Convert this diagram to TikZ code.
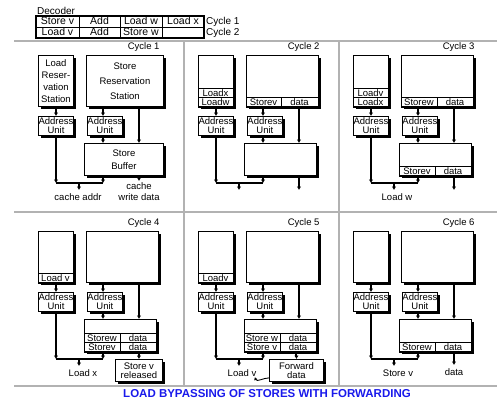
\documentclass[tikz,border=0pt]{standalone}
\usepackage{fontspec}
\setmainfont{Liberation Sans}
\usetikzlibrary{arrows.meta,shadows}

\definecolor{framegray}{RGB}{178,178,178}
\definecolor{titleblue}{RGB}{25,25,235}

\tikzset{
  unitbox/.style={draw, line width=0.9pt, fill=white, inner sep=0pt, align=center,
    anchor=north west,
    drop shadow={shadow xshift=2.6pt, shadow yshift=-2.6pt, fill=black, opacity=1}},
  addrbox/.style={unitbox, minimum height=19, font=\fontsize{9.5}{9.2}\selectfont},
  rowcell/.style={draw, line width=0.6pt, inner sep=0pt, outer sep=0pt,
    minimum height=9.5, text height=6.8pt, text depth=0pt, anchor=south west},
  deccell/.style={draw, line width=0.7pt, inner sep=0pt, outer sep=0pt,
    minimum height=11, anchor=north west, text height=7pt, text depth=1.5pt,
    font=\fontsize{10.5}{11}\selectfont},
  flow/.style={line width=2pt, -{Latex[length=3.5pt,width=4.5pt]}},
  wire/.style={line width=2pt},
  panelline/.style={framegray, line width=2.5pt},
}

\begin{document}
\begin{tikzpicture}[x=1pt, y=-1pt, font=\fontsize{9.5}{11}\selectfont]
  \useasboundingbox (0,0) rectangle (497,404);

  % decoder table
  \node[anchor=west, inner sep=1pt, font=\fontsize{10}{11}\selectfont] (dec) at (36,11) {Decoder};
  \node[deccell, minimum width=43] (d11) at (36,16) {Store v};
  \node[deccell, minimum width=41] (d12) at (d11.north east) {Add};
  \node[deccell, minimum width=42] (d13) at (d12.north east) {Load w};
  \node[deccell, minimum width=42] (d14) at (d13.north east) {Load x};
  \node[deccell, minimum width=43] (d21) at (d11.south west) {Load v};
  \node[deccell, minimum width=41] (d22) at (d21.north east) {Add};
  \node[deccell, minimum width=42] (d23) at (d22.north east) {Store w};
  \node[deccell, minimum width=42] (d24) at (d23.north east) {};
  \draw[line width=1.6pt] (d11.north west) rectangle (d24.south east);
  \node[anchor=west, inner sep=2pt, font=\fontsize{10}{11}\selectfont] (dc1) at (d14.east) {Cycle 1};
  \node[anchor=west, inner sep=2pt, font=\fontsize{10}{11}\selectfont] (dc2) at (d24.east) {Cycle 2};

  % panel frame
  \draw[panelline] (14,41) -- (497,41);
  \draw[panelline] (14,212) -- (497,212);
  \draw[panelline] (14,386) -- (497,386);
  \draw[panelline] (184,41) -- (184,386);
  \draw[panelline] (339,41) -- (339,386);

  % common parts of the six cycles
  \foreach \i/\dx/\dy in {1/0/0, 2/160/0, 3/315/0, 4/0/176, 5/160/176, 6/315/176}{
    \pgfmathsetmacro{\sw}{\i==1 ? 77 : 72}
    \pgfmathsetmacro{\bw}{\i==1 ? 79 : 72}
    \begin{scope}[shift={(\dx,\dy)}]
      \node[anchor=east] (cyc\i) at (163,47) {Cycle \i};
      \node[unitbox, minimum width=35, minimum height=51] (lrs\i) at (38,55) {};
      \node[unitbox, minimum width=\sw, minimum height=51] (srs\i) at (86,55) {};
      \node[addrbox, minimum width=35] (aul\i) at (38,116) {Address\\Unit};
      \node[addrbox, minimum width=32] (aur\i) at (87,116) {Address\\Unit};
      \node[unitbox, minimum width=\bw, minimum height=32] (sb\i) at (84,143) {};
      \coordinate (busl\i) at (56,183);
      \coordinate (busr\i) at (103,183);
      \coordinate (busm\i) at (79,183);
      \coordinate (out\i) at (79,190);
      \coordinate (dsrc\i) at (139,100);
      \draw[flow] (lrs\i.south -| busl\i) -- (aul\i.north -| busl\i);
      \draw[flow] (aul\i.south -| busl\i) -- (busl\i);
      \draw[flow] (srs\i.south -| busr\i) -- (aur\i.north -| busr\i);
      \draw[flow] (aur\i.south -| busr\i) -- (sb\i.north -| busr\i);
      \draw[flow] (srs\i.south -| dsrc\i) -- (sb\i.north -| dsrc\i);
      \draw[flow] (sb\i.south -| busr\i) -- (busr\i);
      \draw[wire] (busl\i) -- (busr\i);
      \draw[flow] (busm\i) -- (out\i);
    \end{scope}
  }

  % cycle 1
  \node[align=center, font=\fontsize{9.5}{12}\selectfont] (lrs1txt) at (lrs1.center) {Load\\Reser-\\vation\\Station};
  \node[align=center, font=\fontsize{9.5}{15}\selectfont] (srs1txt) at (srs1.center) {Store\\Reservation\\Station};
  \node[align=center, font=\fontsize{9.5}{13}\selectfont] (sb1txt) at (sb1.center) {Store\\Buffer};
  \coordinate (wd1) at (139,181);
  \draw[flow] (sb1.south -| wd1) -- (wd1);
  \node[below, xshift=-1pt] (ca1) at (out1) {cache addr};
  \node[below, align=center, inner sep=1pt] (cw1) at (wd1) {cache\\write data};

  % cycle 2
  \begin{scope}[shift={(160,0)}]
    \node[rowcell, minimum width=35] (ldw2) at (lrs2.south west) {Loadw};
    \node[rowcell, minimum width=35] (ldx2) at (ldw2.north west) {Loadx};
    \node[rowcell, minimum width=35] (stv2) at (srs2.south west) {Storev};
    \node[rowcell, minimum width=37] (sdt2) at (stv2.south east) {data};
    \coordinate (dat2) at (139,190);
    \draw[flow] (sb2.south -| dat2) -- (dat2);
  \end{scope}

  % cycle 3
  \begin{scope}[shift={(315,0)}]
    \node[rowcell, minimum width=35] (ldx3) at (lrs3.south west) {Loadx};
    \node[rowcell, minimum width=35] (ldv3) at (ldx3.north west) {Loadv};
    \node[rowcell, minimum width=36] (stw3) at (srs3.south west) {Storew};
    \node[rowcell, minimum width=36] (sdt3) at (stw3.south east) {data};
    \node[rowcell, minimum width=36] (sbv3) at (sb3.south west) {Storev};
    \node[rowcell, minimum width=36] (sbd3) at (sbv3.south east) {data};
    \coordinate (dat3) at (139,190);
    \draw[flow] (sb3.south -| dat3) -- (dat3);
    \node[below, xshift=3pt] (lw3) at (out3) {Load w};
  \end{scope}

  % cycle 4
  \begin{scope}[shift={(0,176)}]
    \node[rowcell, minimum width=35] (ldv4) at (lrs4.south west) {Load v};
    \node[rowcell, minimum width=36] (sbv4) at (sb4.south west) {Storev};
    \node[rowcell, minimum width=36] (sbd4) at (sbv4.south east) {data};
    \node[rowcell, minimum width=36] (sbw4) at (sbv4.north west) {Storew};
    \node[rowcell, minimum width=36] (sbe4) at (sbw4.south east) {data};
    \node[unitbox, minimum width=47, minimum height=22, font=\fontsize{9.5}{9}\selectfont] (rel4) at (115,183) {Store v\\released};
    \draw[flow] (sb4.south -| rel4.north) -- (rel4.north);
    \node[below, xshift=4pt] (lx4) at (out4) {Load x};
  \end{scope}

  % cycle 5
  \begin{scope}[shift={(160,176)}]
    \node[rowcell, minimum width=35] (ldv5) at (lrs5.south west) {Loadv};
    \node[rowcell, minimum width=36] (sbv5) at (sb5.south west) {Store v};
    \node[rowcell, minimum width=36] (sbd5) at (sbv5.south east) {data};
    \node[rowcell, minimum width=36] (sbw5) at (sbv5.north west) {Store w};
    \node[rowcell, minimum width=36] (sbe5) at (sbw5.south east) {data};
    \node[unitbox, minimum width=54, minimum height=22, font=\fontsize{9.5}{9}\selectfont] (fwd5) at (109,183) {Forward\\data};
    \draw[flow] (sb5.south -| fwd5.north) -- (fwd5.north);
    \node[below, xshift=3pt] (lv5) at (out5) {Load v};
    \draw[line width=0.9pt, -{Latex[length=3pt,width=3.5pt]}] ([yshift=4pt]fwd5.south west) to[out=180, in=-70] ([xshift=-5pt, yshift=3pt]lv5.south east);
  \end{scope}

  % cycle 6
  \begin{scope}[shift={(315,176)}]
    \node[rowcell, minimum width=36] (sbw6) at (sb6.south west) {Storew};
    \node[rowcell, minimum width=36] (sbd6) at (sbw6.south east) {data};
    \coordinate (dat6) at (139,189);
    \draw[flow] (sb6.south -| dat6) -- (dat6);
    \node[below, xshift=4pt] (sv6) at (out6) {Store v};
    \node[below] (dd6) at (dat6) {data};
  \end{scope}

  \node[font=\bfseries\fontsize{11.5}{13}\selectfont, text=titleblue] (title) at (267,394) {LOAD BYPASSING OF STORES WITH FORWARDING};
\end{tikzpicture}
\end{document}
